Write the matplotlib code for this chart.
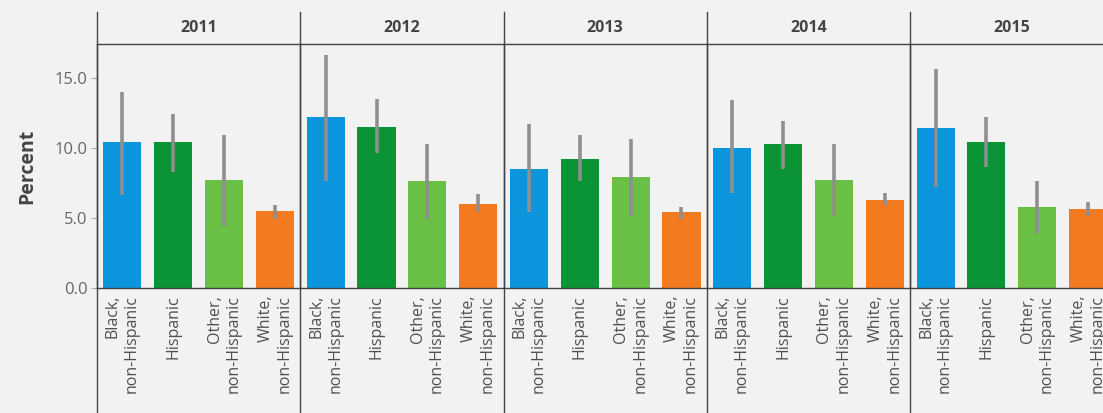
import numpy as np
import matplotlib
matplotlib.use("Agg")
import matplotlib.pyplot as plt
from matplotlib.lines import Line2D

plt.rcParams['font.family'] = ['Open Sans', 'DejaVu Sans']

years = ["2011", "2012", "2013", "2014", "2015"]
groups = ["Black,\nnon-Hispanic", "Hispanic", "Other,\nnon-Hispanic", "White,\nnon-Hispanic"]
colors = ["#0b95dc", "#0a9436", "#6abf45", "#f47a20"]

# percent by year (rows) and group (columns)
values = [[10.4, 10.4, 7.7, 5.5],
          [12.2, 11.5, 7.6, 6.0],
          [8.5, 9.2, 7.9, 5.4],
          [10.0, 10.3, 7.7, 6.3],
          [11.4, 10.4, 5.8, 5.6]]
ci_low = [[6.6, 8.3, 4.4, 4.9],
          [7.6, 9.6, 4.9, 5.4],
          [5.4, 7.6, 5.1, 4.9],
          [6.8, 8.5, 5.1, 5.9],
          [7.2, 8.6, 3.9, 5.1]]
ci_high = [[14.0, 12.4, 10.9, 5.9],
           [16.6, 13.5, 10.3, 6.7],
           [11.7, 10.9, 10.6, 5.8],
           [13.4, 11.9, 10.3, 6.8],
           [15.6, 12.2, 7.6, 6.1]]

W, H = 1103, 413
bg = "#f2f2f2"
fig = plt.figure(figsize=(W / 100, H / 100), dpi=100, facecolor=bg)

left_px = 97
panel_w = 203.3
top_px, bot_px, strip_top = 44, 288, 12
x = np.arange(len(groups))

for i, yr in enumerate(years):
    x0 = left_px + i * panel_w
    ax = fig.add_axes([x0 / W, (H - bot_px) / H, panel_w / W, (bot_px - top_px) / H])
    ax.set_facecolor(bg)
    v = np.array(values[i])
    lo = v - np.array(ci_low[i])
    hi = np.array(ci_high[i]) - v
    ax.bar(x, v, width=0.75, color=colors, zorder=2)
    ax.errorbar(x, v, yerr=[lo, hi], fmt="none", ecolor="#8f8f8f",
                elinewidth=2.6, capsize=0, zorder=3)
    ax.set_xlim(-0.5, 3.5)
    ax.set_ylim(0, 17.4)
    ax.set_xticks(x)
    ax.set_xticklabels(groups, rotation=90, ma="right", fontsize=11.5,
                       color="#505050", linespacing=1.25)
    ax.tick_params(axis="x", length=0, pad=5)
    ax.spines["right"].set_visible(False)
    for s in ["left", "top", "bottom"]:
        ax.spines[s].set_color("#444444")
        ax.spines[s].set_linewidth(1.0)
    if i == 0:
        ax.set_yticks([0, 5, 10, 15])
        ax.set_yticklabels(["0.0", "5.0", "10.0", "15.0"], fontsize=12, color="#666666")
        ax.tick_params(axis="y", length=4, color="#aaaaaa", pad=3)
        ax.set_ylabel("Percent", fontsize=14, fontweight="bold", color="#444444", labelpad=12)
    else:
        ax.set_yticks([])
    # strip header
    fig.text((x0 + panel_w / 2) / W, (H - 28) / H, yr, ha="center", va="center",
             fontsize=11.5, fontweight="bold", color="#444444")
    # panel separator line running through strip and label area
    fig.add_artist(Line2D([x0 / W, x0 / W], [0, (H - strip_top) / H],
                          color="#444444", linewidth=1.0))

fig.savefig("out.png", dpi=100, facecolor=bg)
